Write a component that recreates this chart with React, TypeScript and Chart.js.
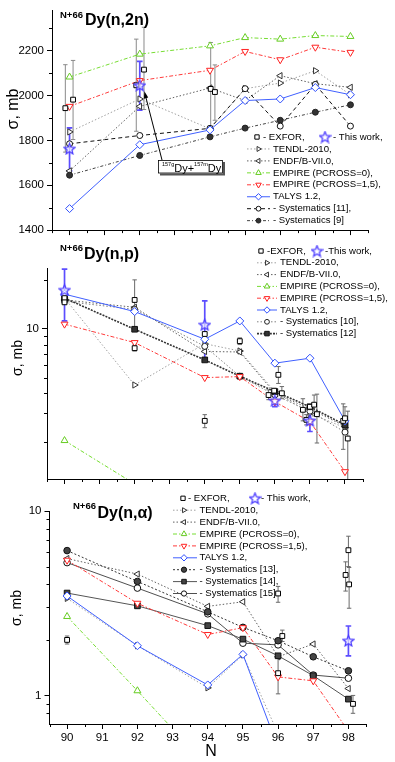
import React, { useEffect, useRef } from 'react';
import { Chart, registerables } from 'chart.js';

Chart.register(...registerables);

const FONT = '"Liberation Sans", Arial, Helvetica, sans-serif';
Chart.defaults.font.family = FONT;
Chart.defaults.color = '#000';

const W = 395;

// ---------- shared x values ----------
const N_CALC = [90, 92, 94, 95, 96, 97, 98];
const N_TICKS = [90, 91, 92, 93, 94, 95, 96, 97, 98];
const N_MINOR = [89.5, 90.5, 91.5, 92.5, 93.5, 94.5, 95.5, 96.5, 97.5, 98.5];

// ---------- (n,2n), mb ----------
const N2N_TENDL = [1838, 1985, 1852, 2031, 2056, 2111, 2004];
const N2N_ENDF = [1664, 1952, 2034, 1978, 2089, 2053, 2037];
const N2N_EMPIRE0 = [2083, 2185, 2222, 2259, 2252, 2268, 2264];
const N2N_EMPIRE15 = [1952, 2067, 2113, 2197, 2160, 2216, 2193];
const N2N_TALYS = [1496, 1781, 1847, 1978, 1985, 2036, 2004];
const N2N_SYS11 = [1785, 1822, 1854, 2031, 1864, 2050, 1864];
const N2N_SYS9 = [1645, 1733, 1816, 1855, 1890, 1926, 1959];
const N2N_EXFOR_N = [89.88, 90.1, 91.9, 92.12, 94.02, 94.14];
const N2N_EXFOR = [1944, 1982, 2046, 2116, 2030, 2016];
const N2N_EXFOR_LO = [1748, 1804, 1841, 1938, 1849, 1890];
const N2N_EXFOR_HI = [2138, 2157, 2252, 2305, 2237, 2137];
const N2N_WORK_N = [90, 92];
const N2N_WORK = [1763, 2046];
const N2N_WORK_LO = [1664, 1935];
const N2N_WORK_HI = [1856, 2153];
const N2N_Y_TICKS = [1400, 1600, 1800, 2000, 2200];
const N2N_Y_MINOR = [1500, 1700, 1900, 2100, 2300];

// ---------- (n,p), mb ----------
const NP_TENDL = [15.5, 4.5, 8.1, 7.3, 4.1, 3.0, 2.45];
const NP_ENDF = [15.1, 13.6, 7.25, 7.2, 4.0, 3.2, 2.5];
const NP_EMPIRE0 = [2.04, 1.1, null, null, null, null, null];
const NP_EMPIRE15 = [10.7, 8.23, 5.0, 5.07, 3.55, 2.67, 1.31];
const NP_TALYS = [16.4, 12.8, 8.63, 11.2, 6.14, 6.59, 2.7];
const NP_SYS10 = [14.8, 13.2, 7.8, 5.1, 3.9, 3.1, 2.3];
const NP_SYS12 = [15.5, 9.95, 6.43, 5.1, 4.1, 3.3, 2.55];
const NP_EXFOR_N = [90, 90, 92, 92, 94, 94, 95, 95.82, 95.98, 96.1, 96.2, 96.8, 96.9, 97.0, 97.12, 97.2, 97.95, 98.0, 98.08];
const NP_EXFOR = [15.5, 14.6, 15.1, 7.6, 9.3, 2.7, 8.4, 3.9, 4.15, 5.2, 4.0, 3.16, 2.74, 3.3, 3.4, 2.97, 2.7, 2.8, 2.1];
const NP_EXFOR_LO = [null, null, 10.0, 7.3, null, 2.45, 8.0, 3.65, null, 4.6, 3.7, 2.7, 2.55, null, 2.9, 1.97, 1.8, 2.3, 1.17];
const NP_EXFOR_HI = [null, null, 20.1, 7.95, null, 2.95, 8.8, 4.2, null, 5.85, 4.4, 3.7, 2.95, null, 3.9, 3.95, 3.44, 3.3, 3.1];
const NP_WORK_N = [90, 94, 96, 97];
const NP_WORK = [17.4, 10.6, 3.6, 2.71];
const NP_WORK_LO = [11.2, 6.6, 3.3, 2.32];
const NP_WORK_HI = [23.4, 14.9, 3.97, 3.08];
const NP_Y_TICKS = [10];
const NP_Y_MINOR = [2, 3, 4, 5, 6, 7, 8, 9, 20];

// ---------- (n,alpha), mb ----------
const NA_TENDL = [3.36, 1.86, 1.1, 1.66, 0.62, null, null];
const NA_ENDF = [5.52, 4.55, 3.04, 3.22, 1.62, 1.9, 1.09];
const NA_EMPIRE0 = [2.68, 1.06, 0.41, null, null, null, null];
const NA_EMPIRE15 = [5.41, 3.16, 2.14, 2.33, 1.26, 1.2, 0.64];
const NA_TALYS = [3.46, 1.86, 1.14, 1.67, 0.52, null, null];
const NA_SYS13 = [6.1, 4.15, 2.84, 2.34, 1.98, 1.62, 1.36];
const NA_SYS14 = [3.59, 3.06, 2.39, 2.02, 1.64, 1.28, 0.955];
const NA_SYS15 = [5.25, 3.82, 2.77, 1.92, 1.88, 1.29, 1.24];
const NA_EXFOR_N = [90, 96.0, 96.0, 96.12, 97.92, 98.0, 98.02, 98.13];
const NA_EXFOR = [2.0, 3.57, 1.32, 2.1, 4.5, 6.13, 4.0, 0.9];
const NA_EXFOR_LO = [1.9, 3.2, 1.02, 1.96, 3.68, 5.0, 2.97, 0.8];
const NA_EXFOR_HI = [2.1, 3.9, 1.6, 2.26, 5.3, 7.3, 4.94, 1.0];
const NA_WORK_N = [98];
const NA_WORK = [1.98];
const NA_WORK_LO = [1.64];
const NA_WORK_HI = [2.38];
const NA_Y_TICKS = [1, 10];
const NA_Y_MINOR = [0.8, 0.9, 2, 3, 4, 5, 6, 7, 8, 9];

// ---------- styles ----------
const ST: Record<string, any> = {
  exfor: { color: '#000', width: 0, dash: [], marker: 'rect', rot: 0, r: 3.4, fill: '#fff', mcolor: '#000' },
  tendl: { color: '#a0a0a0', width: 1, dash: [1.5, 2], marker: 'triangle', rot: 90, r: 3.6, fill: '#fff', mcolor: '#333' },
  endf: { color: '#606060', width: 1, dash: [1.5, 2], marker: 'triangle', rot: 270, r: 3.6, fill: '#fff', mcolor: '#333' },
  emp0: { color: '#77dd33', width: 1, dash: [4, 2, 1.5, 2], marker: 'triangle', rot: 0, r: 4, fill: '#fff', mcolor: '#66cc22' },
  emp15: { color: '#ff3b3b', width: 1, dash: [4, 2, 1.5, 2], marker: 'triangle', rot: 180, r: 4, fill: '#fff', mcolor: '#ff2222' },
  talys: { color: '#4060ff', width: 1, dash: [], marker: 'rectRot', rot: 0, r: 4, fill: '#fff', mcolor: '#3050ff' },
  sys11: { color: '#111', width: 1, dash: [4, 3], marker: 'circle', rot: 0, r: 3, fill: '#fff', mcolor: '#111' },
  sys9: { color: '#444', width: 1, dash: [3, 2, 1, 2], marker: 'circle', rot: 0, r: 3, fill: '#333', mcolor: '#222' },
  sys10: { color: '#808080', width: 1, dash: [1.5, 2], marker: 'circle', rot: 0, r: 3, fill: '#fff', mcolor: '#222' },
  sys12: { color: '#333', width: 1.6, dash: [2, 1.2], marker: 'rect', rot: 0, r: 4, fill: '#333', mcolor: '#111' },
  sys13: { color: '#333', width: 1, dash: [2, 2], marker: 'circle', rot: 0, r: 3.3, fill: '#444', mcolor: '#111' },
  sys14: { color: '#555', width: 1, dash: [], marker: 'rect', rot: 0, r: 4, fill: '#444', mcolor: '#111' },
  sys15: { color: '#222', width: 0.8, dash: [], marker: 'circle', rot: 0, r: 3.3, fill: '#fff', mcolor: '#111' },
};
const WORK_COLOR = '#4b3cff';
const LEGEND_MARK_SCALE = 0.8;

let STAR: HTMLCanvasElement | null = null;
function star(): HTMLCanvasElement {
  if (STAR) return STAR;
  const size = 13;
  const c = document.createElement('canvas');
  c.width = size; c.height = size;
  const g = c.getContext('2d')!;
  const cx = size / 2, cy = size / 2 + 0.5, R = size / 2 - 0.8, r = R * 0.45;
  g.beginPath();
  for (let i = 0; i < 10; i++) {
    const a = -Math.PI / 2 + (i * Math.PI) / 5;
    const rad = i % 2 ? r : R;
    g.lineTo(cx + rad * Math.cos(a), cy + rad * Math.sin(a));
  }
  g.closePath();
  g.fillStyle = 'rgba(255,255,255,0.6)';
  g.fill();
  g.strokeStyle = WORK_COLOR;
  g.lineWidth = 1.3;
  g.stroke();
  STAR = c;
  return c;
}

function series(label: string, ys: (number | null)[], st: any) {
  return {
    label,
    data: N_CALC.map((x, i) => ({ x, y: ys[i] })),
    showLine: true,
    borderColor: st.color,
    borderWidth: st.width,
    borderDash: st.dash,
    pointStyle: st.marker,
    pointRotation: st.rot,
    pointRadius: st.r,
    pointBorderColor: st.mcolor,
    pointBackgroundColor: st.fill,
    pointBorderWidth: 1,
    spanGaps: false,
  };
}

function points(label: string, xs: number[], ys: number[], lo: (number | null)[], hi: (number | null)[], kind: 'exfor' | 'work', errColor: string) {
  const isWork = kind === 'work';
  return {
    label,
    data: xs.map((x, i) => ({ x, y: ys[i] })),
    showLine: false,
    pointStyle: isWork ? star() : 'rect',
    pointRadius: isWork ? 6 : ST.exfor.r,
    pointBorderColor: '#000',
    pointBackgroundColor: '#fff',
    pointBorderWidth: 1,
    errLo: lo,
    errHi: hi,
    errColor: isWork ? '#5c4dff' : errColor,
    errWidth: isWork ? 1.7 : 1,
    errCap: isWork ? 2.8 : 2.2,
  };
}

function drawMarker(ctx: CanvasRenderingContext2D, st: any, x: number, y: number, scale = 1) {
  const r = st.r * scale;
  ctx.save();
  ctx.setLineDash([]);
  ctx.lineWidth = 1;
  ctx.strokeStyle = st.mcolor;
  ctx.fillStyle = st.fill;
  ctx.beginPath();
  if (st.marker === 'circle') ctx.arc(x, y, r, 0, Math.PI * 2);
  else if (st.marker === 'rect') {
    const s = r * Math.SQRT1_2;
    ctx.rect(x - s, y - s, 2 * s, 2 * s);
  } else if (st.marker === 'rectRot') {
    ctx.moveTo(x, y - r); ctx.lineTo(x + r, y); ctx.lineTo(x, y + r); ctx.lineTo(x - r, y); ctx.closePath();
  } else if (st.marker === 'triangle') {
    let a = (st.rot * Math.PI) / 180;
    for (let k = 0; k < 3; k++) {
      const px = x + Math.sin(a) * r, py = y - Math.cos(a) * r;
      if (k === 0) ctx.moveTo(px, py); else ctx.lineTo(px, py);
      a += (2 * Math.PI) / 3;
    }
    ctx.closePath();
  }
  ctx.fill();
  ctx.stroke();
  ctx.restore();
}

function decoPlugin(p: any) {
  return {
    id: 'deco_' + p.key,
    beforeDatasetsDraw(chart: any) {
      const ctx: CanvasRenderingContext2D = chart.ctx;
      const ys = chart.scales.y;
      const ca = chart.chartArea;
      ctx.save();
      ctx.beginPath();
      ctx.rect(ca.left, ca.top - 1, ca.right - ca.left, ca.bottom - ca.top + 1);
      ctx.clip();
      chart.data.datasets.forEach((ds: any, i: number) => {
        if (!ds.errLo) return;
        const meta = chart.getDatasetMeta(i);
        ctx.strokeStyle = ds.errColor;
        ctx.lineWidth = ds.errWidth;
        ctx.setLineDash([]);
        meta.data.forEach((el: any, j: number) => {
          const lo = ds.errLo[j], hi = ds.errHi[j];
          if (lo == null || hi == null) return;
          const x = el.x;
          const y1 = ys.getPixelForValue(lo), y2 = ys.getPixelForValue(hi);
          const c = ds.errCap;
          ctx.beginPath();
          ctx.moveTo(x, y1); ctx.lineTo(x, y2);
          ctx.moveTo(x - c, y1); ctx.lineTo(x + c, y1);
          ctx.moveTo(x - c, y2); ctx.lineTo(x + c, y2);
          ctx.stroke();
        });
      });
      ctx.restore();
    },
    afterDraw(chart: any) {
      const ctx: CanvasRenderingContext2D = chart.ctx;
      const ca = chart.chartArea;
      const xs = chart.scales.x, ys = chart.scales.y;
      ctx.save();
      // minor ticks
      ctx.strokeStyle = '#000'; ctx.lineWidth = 1; ctx.setLineDash([]);
      ctx.beginPath();
      N_MINOR.forEach((v) => {
        const px = Math.round(xs.getPixelForValue(v)) + 0.5;
        ctx.moveTo(px, ca.bottom); ctx.lineTo(px, ca.bottom + 3);
      });
      p.yMinor.forEach((v: number) => {
        const py = Math.round(ys.getPixelForValue(v)) + 0.5;
        ctx.moveTo(ca.left, py); ctx.lineTo(ca.left - 3, py);
      });
      ctx.stroke();

      // title
      ctx.fillStyle = '#000';
      ctx.textBaseline = 'alphabetic';
      ctx.textAlign = 'left';
      ctx.font = `bold 9.5px ${FONT}`;
      ctx.fillText(p.title.sup, p.title.sx, p.title.sy);
      ctx.font = `bold 16px ${FONT}`;
      ctx.fillText(p.title.main, p.title.mx, p.title.my);

      // y title
      ctx.save();
      ctx.translate(p.yTitle.x, p.yTitle.y);
      ctx.rotate(-Math.PI / 2);
      ctx.font = `${p.yTitle.size}px ${FONT}`;
      ctx.textAlign = 'center';
      ctx.textBaseline = 'middle';
      ctx.fillText('σ, mb', 0, 0);
      ctx.restore();

      // x title
      if (p.xTitle) {
        ctx.font = `16px ${FONT}`;
        ctx.textAlign = 'center';
        ctx.textBaseline = 'middle';
        ctx.fillText('N', p.xTitle.x, p.xTitle.y);
      }

      // legend
      const L = p.legend;
      ctx.font = `9.6px ${FONT}`;
      ctx.textAlign = 'left';
      ctx.textBaseline = 'middle';
      drawMarker(ctx, ST.exfor, L.sqX, L.y0, 0.9);
      ctx.fillStyle = '#000';
      ctx.fillText(L.exText, L.exX, L.y0);
      const s = star();
      ctx.drawImage(s, L.stX - s.width / 2, L.y0 - s.height / 2);
      ctx.fillText(L.thText, L.thX, L.y0);
      L.rows.forEach((row: any, k: number) => {
        const st = row[0];
        const y = L.y0 + (k + 1) * L.dy;
        ctx.save();
        ctx.strokeStyle = st.color;
        ctx.lineWidth = st.width;
        ctx.setLineDash(st.dash);
        ctx.beginPath();
        ctx.moveTo(L.x0, y); ctx.lineTo(L.x1, y);
        ctx.stroke();
        ctx.restore();
        drawMarker(ctx, st, L.mx, y, LEGEND_MARK_SCALE);
        ctx.fillStyle = '#000';
        ctx.fillText(row[1], L.tx, y);
      });

      // annotation
      if (p.annotate) {
        const bx = 158, by = 160, bw = 65, bh = 13.5;
        ctx.fillStyle = '#555';
        ctx.fillRect(bx + 2, by + 2, bw, bh);
        ctx.fillStyle = '#fff';
        ctx.fillRect(bx, by, bw, bh);
        ctx.strokeStyle = '#000'; ctx.lineWidth = 0.8;
        ctx.strokeRect(bx + 0.5, by + 0.5, bw - 1, bh - 1);
        ctx.fillStyle = '#000';
        ctx.textBaseline = 'alphabetic';
        let tx = bx + 4;
        const parts: [string, boolean][] = [['157g', true], ['Dy+', false], ['157m', true], ['Dy', false]];
        parts.forEach(([t, sup]) => {
          ctx.font = sup ? `5.5px ${FONT}` : `11px ${FONT}`;
          ctx.fillText(t, tx, sup ? by + 6 : by + 11.5);
          tx += ctx.measureText(t).width;
        });
        // arrow
        const tipX = xs.getPixelForValue(92.13), tipY = ys.getPixelForValue(2019);
        const sx = 162, sy = by;
        const dx = tipX - sx, dy = tipY - sy, len = Math.hypot(dx, dy);
        const ux = dx / len, uy = dy / len;
        ctx.strokeStyle = '#000'; ctx.lineWidth = 1;
        ctx.beginPath();
        ctx.moveTo(sx, sy); ctx.lineTo(tipX - ux * 4, tipY - uy * 4);
        ctx.stroke();
        const bxh = tipX - ux * 7, byh = tipY - uy * 7;
        ctx.beginPath();
        ctx.moveTo(tipX, tipY);
        ctx.lineTo(bxh - uy * 2.2, byh + ux * 2.2);
        ctx.lineTo(bxh + uy * 2.2, byh - ux * 2.2);
        ctx.closePath();
        ctx.fillStyle = '#000';
        ctx.fill();
      }
      ctx.restore();
    },
  };
}

function buildConfig(p: any): any {
  const axisGrid = { display: true, drawOnChartArea: false, drawTicks: true, tickLength: 5, color: '#000', lineWidth: 1 };
  const border = { display: true, color: '#000', width: 1 };
  return {
    type: 'scatter',
    data: { datasets: p.datasets },
    options: {
      responsive: false,
      animation: false,
      devicePixelRatio: 1,
      events: [],
      layout: { padding: { top: p.area.T, right: W - p.area.R, left: 0, bottom: 0 } },
      plugins: { legend: { display: false }, tooltip: { enabled: false } },
      scales: {
        x: {
          type: 'linear',
          min: 89.5,
          max: 98.5,
          afterFit: (s: any) => { s.height = p.H - p.area.B; },
          afterBuildTicks: (s: any) => { s.ticks = N_TICKS.map((v) => ({ value: v })); },
          grid: axisGrid,
          border,
          ticks: {
            display: p.xLabels,
            autoSkip: false,
            maxRotation: 0,
            padding: 2,
            color: '#000',
            font: { size: 11.5, family: FONT },
            callback: (v: any) => String(v),
          },
        },
        y: {
          type: p.yType,
          min: p.yMin,
          max: p.yMax,
          afterFit: (s: any) => { s.width = p.area.L; },
          afterBuildTicks: (s: any) => { s.ticks = p.yMajor.map((v: number) => ({ value: v })); },
          grid: axisGrid,
          border,
          ticks: {
            autoSkip: false,
            padding: 3,
            color: '#000',
            font: { size: 11.5, family: FONT },
            callback: (v: any) => String(v),
          },
        },
      },
    },
    plugins: [decoPlugin(p)],
  };
}

const ROWS_COMMON = (): any[] => [
  [ST.tendl, 'TENDL-2010,'],
  [ST.endf, 'ENDF/B-VII.0,'],
  [ST.emp0, 'EMPIRE (PCROSS=0),'],
  [ST.emp15, 'EMPIRE (PCROSS=1,5),'],
  [ST.talys, 'TALYS 1.2,'],
];

const P1 = () => ({
  key: 'n2n', H: 240,
  area: { L: 52, R: 368, T: 10, B: 231 },
  yType: 'linear', yMin: 1400, yMax: 2382, yMajor: N2N_Y_TICKS, yMinor: N2N_Y_MINOR, xLabels: false,
  datasets: [
    points('This work', N2N_WORK_N, N2N_WORK, N2N_WORK_LO, N2N_WORK_HI, 'work', ''),
    points('EXFOR', N2N_EXFOR_N, N2N_EXFOR, N2N_EXFOR_LO, N2N_EXFOR_HI, 'exfor', '#8a8a8a'),
    series('TALYS 1.2', N2N_TALYS, ST.talys),
    series('EMPIRE (PCROSS=1,5)', N2N_EMPIRE15, ST.emp15),
    series('EMPIRE (PCROSS=0)', N2N_EMPIRE0, ST.emp0),
    series('Systematics [11]', N2N_SYS11, ST.sys11),
    series('Systematics [9]', N2N_SYS9, ST.sys9),
    series('ENDF/B-VII.0', N2N_ENDF, ST.endf),
    series('TENDL-2010', N2N_TENDL, ST.tendl),
  ],
  legend: {
    y0: 137, dy: 11.95, x0: 247, x1: 270, mx: 258.5, tx: 273,
    sqX: 257, exX: 263, stX: 325, thX: 333, exText: '- EXFOR,', thText: '- This work,',
    rows: [...ROWS_COMMON(), [ST.sys11, '- Systematics [11],'], [ST.sys9, '- Systematics [9]']],
  },
  title: { sup: 'N+66', main: 'Dy(n,2n)', sx: 60, sy: 18, mx: 85, my: 25 },
  yTitle: { x: 14, y: 109, size: 16 },
  xTitle: null,
  annotate: true,
});

const P2 = () => ({
  key: 'np', H: 250,
  area: { L: 47, R: 362.5, T: 28, B: 239 },
  yType: 'logarithmic', yMin: 1.18, yMax: 23.8, yMajor: NP_Y_TICKS, yMinor: NP_Y_MINOR, xLabels: false,
  datasets: [
    points('This work', NP_WORK_N, NP_WORK, NP_WORK_LO, NP_WORK_HI, 'work', ''),
    points('EXFOR', NP_EXFOR_N, NP_EXFOR, NP_EXFOR_LO, NP_EXFOR_HI, 'exfor', '#6a6a6a'),
    series('TALYS 1.2', NP_TALYS, ST.talys),
    series('EMPIRE (PCROSS=1,5)', NP_EMPIRE15, ST.emp15),
    series('EMPIRE (PCROSS=0)', NP_EMPIRE0, ST.emp0),
    series('Systematics [12]', NP_SYS12, ST.sys12),
    series('Systematics [10]', NP_SYS10, ST.sys10),
    series('ENDF/B-VII.0', NP_ENDF, ST.endf),
    series('TENDL-2010', NP_TENDL, ST.tendl),
  ],
  legend: {
    y0: 11, dy: 11.8, x0: 257, x1: 277, mx: 267, tx: 280,
    sqX: 261, exX: 267, stX: 317, thX: 325, exText: '-EXFOR,', thText: '-This work,',
    rows: [...ROWS_COMMON(), [ST.sys10, '- Systematics [10],'], [ST.sys12, '- Systematics [12]']],
  },
  title: { sup: 'N+66', main: 'Dy(n,p)', sx: 60, sy: 11, mx: 84, my: 19 },
  yTitle: { x: 18, y: 118, size: 14 },
  xTitle: null,
  annotate: false,
});

const P3 = () => ({
  key: 'na', H: 272,
  area: { L: 49.5, R: 366, T: 21, B: 234 },
  yType: 'logarithmic', yMin: 0.7, yMax: 10, yMajor: NA_Y_TICKS, yMinor: NA_Y_MINOR, xLabels: true,
  datasets: [
    points('This work', NA_WORK_N, NA_WORK, NA_WORK_LO, NA_WORK_HI, 'work', ''),
    points('EXFOR', NA_EXFOR_N, NA_EXFOR, NA_EXFOR_LO, NA_EXFOR_HI, 'exfor', '#6a6a6a'),
    series('TALYS 1.2', NA_TALYS, ST.talys),
    series('EMPIRE (PCROSS=1,5)', NA_EMPIRE15, ST.emp15),
    series('EMPIRE (PCROSS=0)', NA_EMPIRE0, ST.emp0),
    series('Systematics [13]', NA_SYS13, ST.sys13),
    series('Systematics [14]', NA_SYS14, ST.sys14),
    series('Systematics [15]', NA_SYS15, ST.sys15),
    series('ENDF/B-VII.0', NA_ENDF, ST.endf),
    series('TENDL-2010', NA_TENDL, ST.tendl),
  ],
  legend: {
    y0: 8.3, dy: 11.9, x0: 173, x1: 197, mx: 184, tx: 199.5,
    sqX: 183, exX: 188, stX: 255, thX: 261, exText: '- EXFOR,', thText: '- This work,',
    rows: [...ROWS_COMMON(), [ST.sys13, '- Systematics [13],'], [ST.sys14, '- Systematics [14],'], [ST.sys15, '- Systematics [15]']],
  },
  title: { sup: 'N+66', main: 'Dy(n,α)', sx: 73, sy: 19, mx: 97.5, my: 28 },
  yTitle: { x: 17, y: 118, size: 14 },
  xTitle: { x: 211, y: 262 },
  annotate: false,
});

function Panel({ build, top, height }: { build: () => any; top: number; height: number }) {
  const ref = useRef<HTMLCanvasElement>(null);
  useEffect(() => {
    const chart = new Chart(ref.current as HTMLCanvasElement, buildConfig(build()));
    return () => chart.destroy();
  }, []);
  return (
    <canvas
      ref={ref}
      width={W}
      height={height}
      style={{ position: 'absolute', left: 0, top, width: W, height, display: 'block' }}
    />
  );
}

export default function App() {
  return (
    <div style={{ position: 'absolute', left: 0, top: 0, width: W, height: 762, background: '#fff', overflow: 'hidden' }}>
      <Panel build={P1} top={0} height={240} />
      <Panel build={P2} top={240} height={250} />
      <Panel build={P3} top={490} height={272} />
    </div>
  );
}
